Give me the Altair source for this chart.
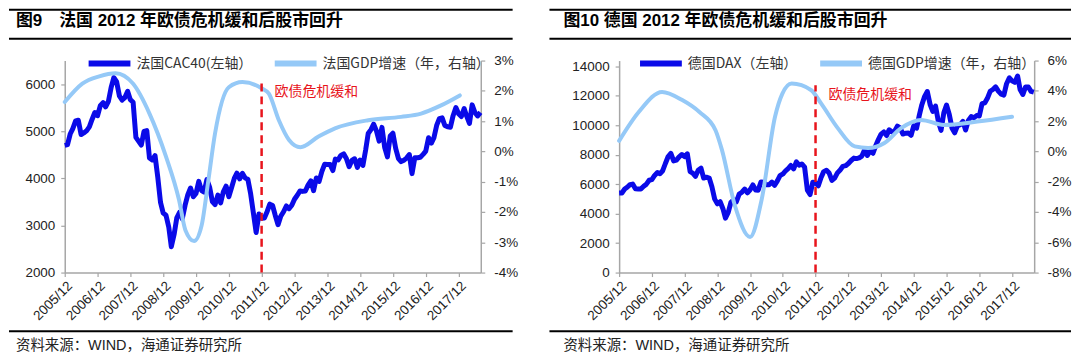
import altair as alt
import pandas as pd

SANS = "Liberation Sans, Noto Sans CJK SC, sans-serif"
CJK = "Noto Sans CJK SC, Liberation Sans, sans-serif"
DARK = "#0A0AE8"
LIGHT = "#95C9F7"
RED = "#E8141C"
GRAY = "#A6A6A6"

# monthly points, 2005-12 .. 2018-08 (month start)
MONTHS = pd.date_range("2005-12-01", "2018-08-01", freq="MS").strftime("%Y-%m-%d").tolist()

cac40 = [
    4700, 4715,
    4947, 5057, 5220, 5233, 4930, 4965, 5009, 5093, 5250, 5398, 5329, 5542,
    5608, 5517, 5634, 5925, 6140, 6055, 5752, 5662, 5715, 5847, 5670, 5614,
    4869, 4790, 4707, 4997, 5014, 4434, 4392, 4483, 4032, 3488, 3263, 3218,
    2962, 2550, 2807, 3159, 3277, 3140, 3426, 3653, 3795, 3608, 3680, 3936,
    3739, 3708, 3974, 3816, 3508, 3443, 3643, 3477, 3715, 3833, 3610, 3805,
    4005, 4110, 3989, 4106, 4007, 3982, 3672, 3256, 2850, 3243, 3155, 3160,
    3298, 3453, 3424, 3213, 3017, 3196, 3291, 3414, 3355, 3429, 3557, 3641,
    3733, 3723, 3731, 3856, 3949, 3739, 4007, 3934, 4143, 4299, 4295, 4296,
    4165, 4408, 4392, 4487, 4519, 4423, 4246, 4381, 4416, 4233, 4390, 4273,
    4604, 4951, 5034, 5150, 5008, 4790, 5082, 4653, 4455, 4897, 4957, 4637,
    4417, 4354, 4385, 4429, 4506, 4100, 4440, 4438, 4448, 4509, 4578, 4862,
    4749, 4858, 5123, 5267, 5283, 5121, 5093, 5086, 5330, 5503, 5373, 5313,
    5482, 5320, 5167, 5560, 5398, 5324, 5400,
]

dax = [
    5400, 5408,
    5674, 5797, 5970, 6009, 5692, 5683, 5682, 5860, 6004, 6269, 6310, 6597,
    6789, 6716, 6917, 7409, 7883, 8100, 7584, 7638, 7862, 8020, 7871, 8067,
    6851, 6748, 6535, 6949, 7097, 6418, 6480, 6422, 5831, 4988, 4669, 4810,
    4338, 3700, 4085, 4770, 4941, 4809, 5332, 5458, 5675, 5415, 5625, 5957,
    5608, 5598, 6154, 6136, 5964, 5966, 6148, 5925, 6229, 6601, 6688, 6914,
    7077, 7272, 7041, 7514, 7294, 7376, 7159, 5600, 5300, 6141, 6089, 5898,
    6458, 6856, 6947, 6761, 6264, 6416, 6772, 6970, 7216, 7260, 7405, 7612,
    7776, 7741, 7795, 7914, 8349, 7959, 8276, 8103, 8594, 9033, 9405, 9552,
    9306, 9692, 9556, 9603, 9943, 9833, 9407, 9470, 9474, 9327, 9981, 9806,
    10694, 11402, 11966, 12300, 11414, 10945, 11309, 10259, 9660, 10850, 11382, 10743,
    9798, 9495, 9966, 10039, 10263, 9680, 10337, 10593, 10511, 10665, 10640, 11481,
    11535, 11834, 12313, 12438, 12615, 12325, 12118, 12056, 12829, 13230, 13024, 12918,
    13350, 12436, 12097, 12612, 12605, 12306, 12250,
]

fr_gdp_dates = [
    "2005-12-01", "2006-06-15", "2006-12-20", "2007-06-20", "2007-12-30",
    "2008-07-01", "2009-01-01", "2009-05-25", "2009-08-05", "2009-11-10",
    "2010-02-01", "2010-04-15", "2010-07-01", "2010-12-01", "2011-05-01",
    "2011-12-10", "2012-02-20", "2012-06-10", "2012-10-01", "2013-02-05",
    "2013-08-25", "2014-02-25", "2015-03-01", "2016-03-01", "2016-10-10",
    "2017-05-20", "2017-12-15",
]
fr_gdp = [
    1.63, 2.24, 2.48, 2.58, 2.24,
    1.25, -0.17, -1.59, -2.6, -2.96,
    -2.45, -1.0, 0.6, 2.12, 2.29,
    2.07, 1.91, 1.03, 0.38, 0.14,
    0.49, 0.76, 1.03, 1.14, 1.25,
    1.52, 1.85,
]

de_gdp_dates = [
    "2005-12-01", "2006-07-10", "2007-03-25", "2007-11-05", "2008-05-15",
    "2008-11-10", "2009-01-20", "2009-06-15", "2009-12-01", "2010-04-10",
    "2010-09-05", "2010-11-25", "2011-03-10", "2011-10-15", "2012-02-01",
    "2012-08-05", "2013-02-10", "2013-07-10", "2014-01-08", "2014-07-12",
    "2015-02-20", "2015-11-01", "2016-11-10", "2017-12-01",
]
de_gdp = [
    0.7, 2.62, 3.93, 3.39, 2.6,
    1.4, 0.12, -3.59, -5.65, -3.15,
    2.29, 3.8, 4.48, 4.04, 3.17,
    1.54, 0.33, 0.23, 0.56, 1.54,
    2.08, 1.75, 1.97, 2.29,
]

X_TICKS = [alt.DateTime(year=y, month=12, date=1, utc=True) for y in range(2005, 2018)]
X_DOMAIN = [alt.DateTime(year=2005, month=12, date=1, utc=True),
            alt.DateTime(year=2018, month=8, date=5, utc=True)]

crisis_date = "2011-12-01"
note_text = "欧债危机缓和"
source_text = "资料来源：WIND，海通证券研究所"

PLOT_H = 213


def make_panel(title, labels, stock, gdp_dates, gdp, y_dom, y_ticks, g_dom, g_ticks,
               rule_top, note_y, width, geo):
    sdf = pd.DataFrame({"date": MONTHS, "v": stock, "s": labels[0]})
    gdf = pd.DataFrame({"date": gdp_dates, "g": gdp, "s": labels[1]})
    rdf = pd.DataFrame({"date": [crisis_date], "g": [g_dom[0]], "g2": [rule_top]})
    ndf = pd.DataFrame({"date": [crisis_date], "g": [note_y], "t": [note_text]})
    one = pd.DataFrame({"a": [1]})

    xscale = alt.Scale(type="utc", domain=X_DOMAIN)
    xaxis = alt.Axis(values=X_TICKS, labelExpr="utcFormat(datum.value, '%Y/%m')",
                     labelAngle=-45, labelAlign="right", labelBaseline="top",
                     labelPadding=2, tickSize=4, title=None, grid=False,
                     labelFontSize=13.5, labelOverlap=False, labelFlush=False)
    x = alt.X("date:T", scale=xscale, axis=xaxis)

    yaxis = alt.Axis(values=y_ticks, orient="left", tickSize=4, labelPadding=6,
                     format="d", title=None, grid=False, labelFontSize=13.5)
    gaxis = alt.Axis(values=g_ticks, orient="right", tickSize=4, labelPadding=9,
                     labelAlign="left", labelExpr="datum.value + '%'",
                     title=None, grid=False, labelFontSize=13.5)
    yscale = alt.Scale(domain=y_dom, nice=False, zero=False)
    gscale = alt.Scale(domain=g_dom, nice=False, zero=False)

    color = alt.Color("s:N", scale=alt.Scale(domain=labels, range=[DARK, LIGHT]),
                      legend=alt.Legend(orient="none", legendX=geo["legend_x"], legendY=-21,
                                        direction="horizontal", title=None,
                                        symbolType="stroke", symbolSize=1764,
                                        symbolStrokeWidth=6, labelFont=CJK,
                                        labelFontSize=14, labelColor="#333333",
                                        labelLimit=300, columnPadding=geo["col_pad"],
                                        labelOffset=3))

    stock_line = alt.Chart(sdf).mark_line(strokeWidth=5, strokeJoin="round").encode(
        x=x, y=alt.Y("v:Q", scale=yscale, axis=yaxis), color=color)

    gdp_line = alt.Chart(gdf).mark_line(strokeWidth=4, interpolate="monotone",
                                        strokeCap="round").encode(
        x=x, y=alt.Y("g:Q", scale=gscale, axis=gaxis), color=color)
    rule = alt.Chart(rdf).mark_rule(color=RED, strokeWidth=2.5, strokeDash=[8, 5]).encode(
        x=x, y=alt.Y("g:Q", scale=gscale, axis=gaxis), y2="g2:Q")
    note = alt.Chart(ndf).mark_text(color=RED, font=CJK, fontSize=14, align="left",
                                    baseline="middle", dx=13).encode(
        x=x, y=alt.Y("g:Q", scale=gscale, axis=gaxis), text="t:N")

    def hrule(yv):
        return alt.Chart(one).mark_rule(color="black", strokeWidth=2).encode(
            x=alt.value(geo["rx1"]), x2=alt.value(geo["rx2"]), y=alt.value(yv))

    title_mark = alt.Chart(one).mark_text(text=title, font=SANS, fontSize=17,
                                          fontWeight="bold", color="black",
                                          align="left", baseline="middle").encode(
        x=alt.value(geo["tx"]), y=alt.value(-40))
    source_mark = alt.Chart(one).mark_text(text=source_text, font=SANS, fontSize=14.5,
                                           color="#222222", align="left",
                                           baseline="middle").encode(
        x=alt.value(geo["tx"]), y=alt.value(287))

    left_part = alt.layer(hrule(-51), hrule(-22), hrule(272), title_mark, source_mark,
                          stock_line)
    right_part = alt.layer(gdp_line, rule, note)
    return alt.layer(left_part, right_part).resolve_scale(y="independent").properties(
        width=width, height=PLOT_H)


left = make_panel("图9\u3000法国 2012 年欧债危机缓和后股市回升",
                  ["法国CAC40(左轴）", "法国GDP增速（年，右轴）"],
                  cac40, fr_gdp_dates, fr_gdp,
                  [2000, 6500], [2000, 3000, 4000, 5000, 6000],
                  [-4, 3], [-4, -3, -2, -1, 0, 1, 2, 3],
                  2.25, 1.96, 418,
                  {"rx1": -56, "rx2": 450, "tx": -49, "legend_x": 21, "col_pad": 10})

right = make_panel("图10 德国 2012 年欧债危机缓和后股市回升",
                   ["德国DAX（左轴）", "德国GDP增速（年，右轴）"],
                   dax, de_gdp_dates, de_gdp,
                   [0, 14400], [0, 2000, 4000, 6000, 8000, 10000, 12000, 14000],
                   [-8, 6], [-8, -6, -4, -2, 0, 2, 4, 6],
                   4.37, 3.7, 417,
                   {"rx1": -70, "rx2": 454, "tx": -56, "legend_x": 18, "col_pad": 10})

chart = alt.hconcat(left, right, spacing=30).resolve_scale(
    x="independent", y="independent", color="independent"
).resolve_legend(color="independent").properties(
    padding=0, background="white"
).configure_view(strokeWidth=0).configure_axis(
    domainColor=GRAY, tickColor=GRAY, domainWidth=1.5, tickWidth=1.2,
    labelColor="#222222", labelFont="Liberation Sans"
)

chart.save("out.html", embed_options={"renderer": "svg", "actions": False})
